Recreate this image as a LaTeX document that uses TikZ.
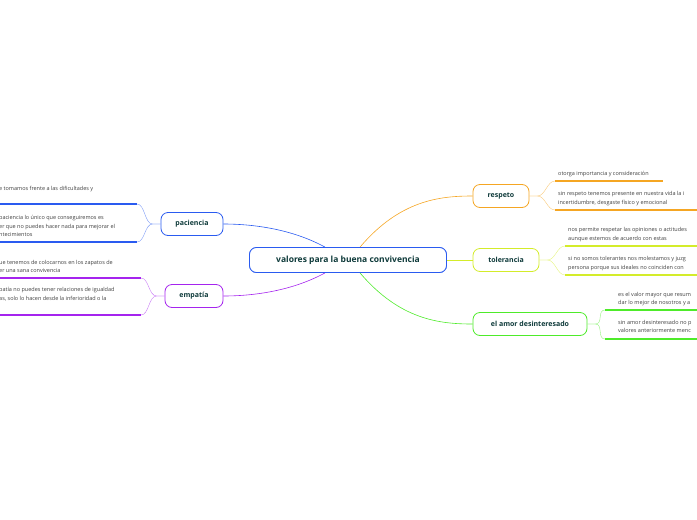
\documentclass[tikz,border=0pt]{standalone}
\usepackage{fontspec}
\setmainfont{Open Sans}
\definecolor{Azul}{HTML}{2A5BF0}
\definecolor{Naranja}{HTML}{F5A623}
\definecolor{Lima}{HTML}{D4EC2A}
\definecolor{Verde}{HTML}{4EEB2A}
\definecolor{Morado}{HTML}{A524EE}
\definecolor{Tinta}{HTML}{0E3A3A}
\tikzset{
  rama/.style={draw=#1, thick, rounded corners=7pt, fill=white, text=Tinta,
    font=\fontsize{7}{8}\selectfont\bfseries, minimum height=23pt, inner xsep=8pt},
  hoja/.style={font=\fontsize{5.5}{8.6}\selectfont, text=black!75, anchor=west, align=left, inner sep=0pt},
  raya/.style={draw=#1, line width=1.4pt},
  enlace/.style={draw=#1, thin},
}
\begin{document}
\begin{tikzpicture}[x=1pt,y=-1pt]
\useasboundingbox (0,0) rectangle (697,520);
\clip (0,0) rectangle (697,520);
%%ramas
\node[rama=Azul, minimum width=197pt, minimum height=25pt, font=\fontsize{8.5}{9}\selectfont\bfseries] (centro) at (348,260) {valores para la buena convivencia};
\node[rama=Naranja, minimum width=56pt] (respeto) at (501,196) {respeto};
\node[rama=Lima, minimum width=66pt] (tolerancia) at (506,260) {tolerancia};
\node[rama=Verde, minimum width=114pt] (amor) at (530,324) {el amor desinteresado};
\node[rama=Azul, minimum width=62pt] (paciencia) at (192,224) {paciencia};
\node[rama=Morado, minimum width=58pt] (empatia) at (194,296) {empatía};
%%enlaces del centro
\draw[enlace=Naranja, semithick] (centro.north)++(12,0) coordinate (c1) .. controls (400,200) and (440,196) .. (respeto.west);
\draw[enlace=Lima, semithick] (centro.east) -- (tolerancia.west);
\draw[enlace=Verde, semithick] (centro.south)++(12,0) coordinate (c2) .. controls (400,320) and (440,324) .. (amor.west);
\draw[enlace=Azul, semithick] (centro.north)++(-23,0) coordinate (c3) .. controls (290,228) and (250,224) .. (paciencia.east);
\draw[enlace=Morado, semithick] (centro.south)++(-23,0) coordinate (c4) .. controls (290,292) and (250,296) .. (empatia.east);
\node[rama=Azul, minimum width=197pt, minimum height=25pt, font=\fontsize{8.5}{9}\selectfont\bfseries] at (centro) {valores para la buena convivencia};
%%hojas derecha
\foreach \r/\c/\y/\x/\xe in {respeto/Naranja/181/555/663, respeto/Naranja/210/555/697,
  tolerancia/Lima/246/565/697, tolerancia/Lima/275/565/697,
  amor/Verde/310/605/697, amor/Verde/339/605/697}
{
\coordinate (a) at (\x,\y);
\draw[enlace=\c!60] (\r.east) -- +(8,0) .. controls +(8,0) and (\x-8,\y) .. (a);
\draw[raya=\c] (a) -- (\xe,\y);
}
\node[hoja] (r1) at (558,174) {otorga importancia y consideración};
\node[hoja] (r2) at (558,198.5) {sin respeto tenemos presente en nuestra vida la i\\incertidumbre, desgaste físico y emocional};
\node[hoja] (t1) at (568,234.5) {nos permite respetar las opiniones o actitudes\\aunque estemos de acuerdo con estas};
\node[hoja] (t2) at (568,263.5) {si no somos tolerantes nos molestamos y juzg\\persona porque sus ideales no coinciden con};
\node[hoja] (a1) at (618,299) {es el valor mayor que resum\\dar lo mejor de nosotros y a};
\node[hoja] (a2) at (618,326.5) {sin amor desinteresado no p\\valores anteriormente menc};
%%hojas izquierda
\foreach \r/\c/\y/\x in {paciencia/Azul/204/137, paciencia/Azul/242/137,
  empatia/Morado/278/141, empatia/Morado/315/141}
{
\coordinate (a) at (\x,\y);
\draw[enlace=\c!60] (\r.west) -- +(-8,0) .. controls +(-8,0) and (\x+8,\y) .. (a);
\draw[raya=\c] (a) -- (0,\y);
}
\node[hoja] (p1) at (-1,189) {e tomamos frente a las dificultades y};
\node[hoja] (p2) at (-1,226) {paciencia lo único que conseguiremos es\\er que no puedes hacer nada para mejorar el\\ntecimientos};
\node[hoja] (e1) at (-1,266.5) {ue tenemos de colocarnos en los zapatos de\\er una sana convivencia};
\node[hoja] (e2) at (-1,294.5) {patía no puedes tener relaciones de igualdad\\as, solo lo hacen desde la inferioridad o la};
\end{tikzpicture}
\end{document}
